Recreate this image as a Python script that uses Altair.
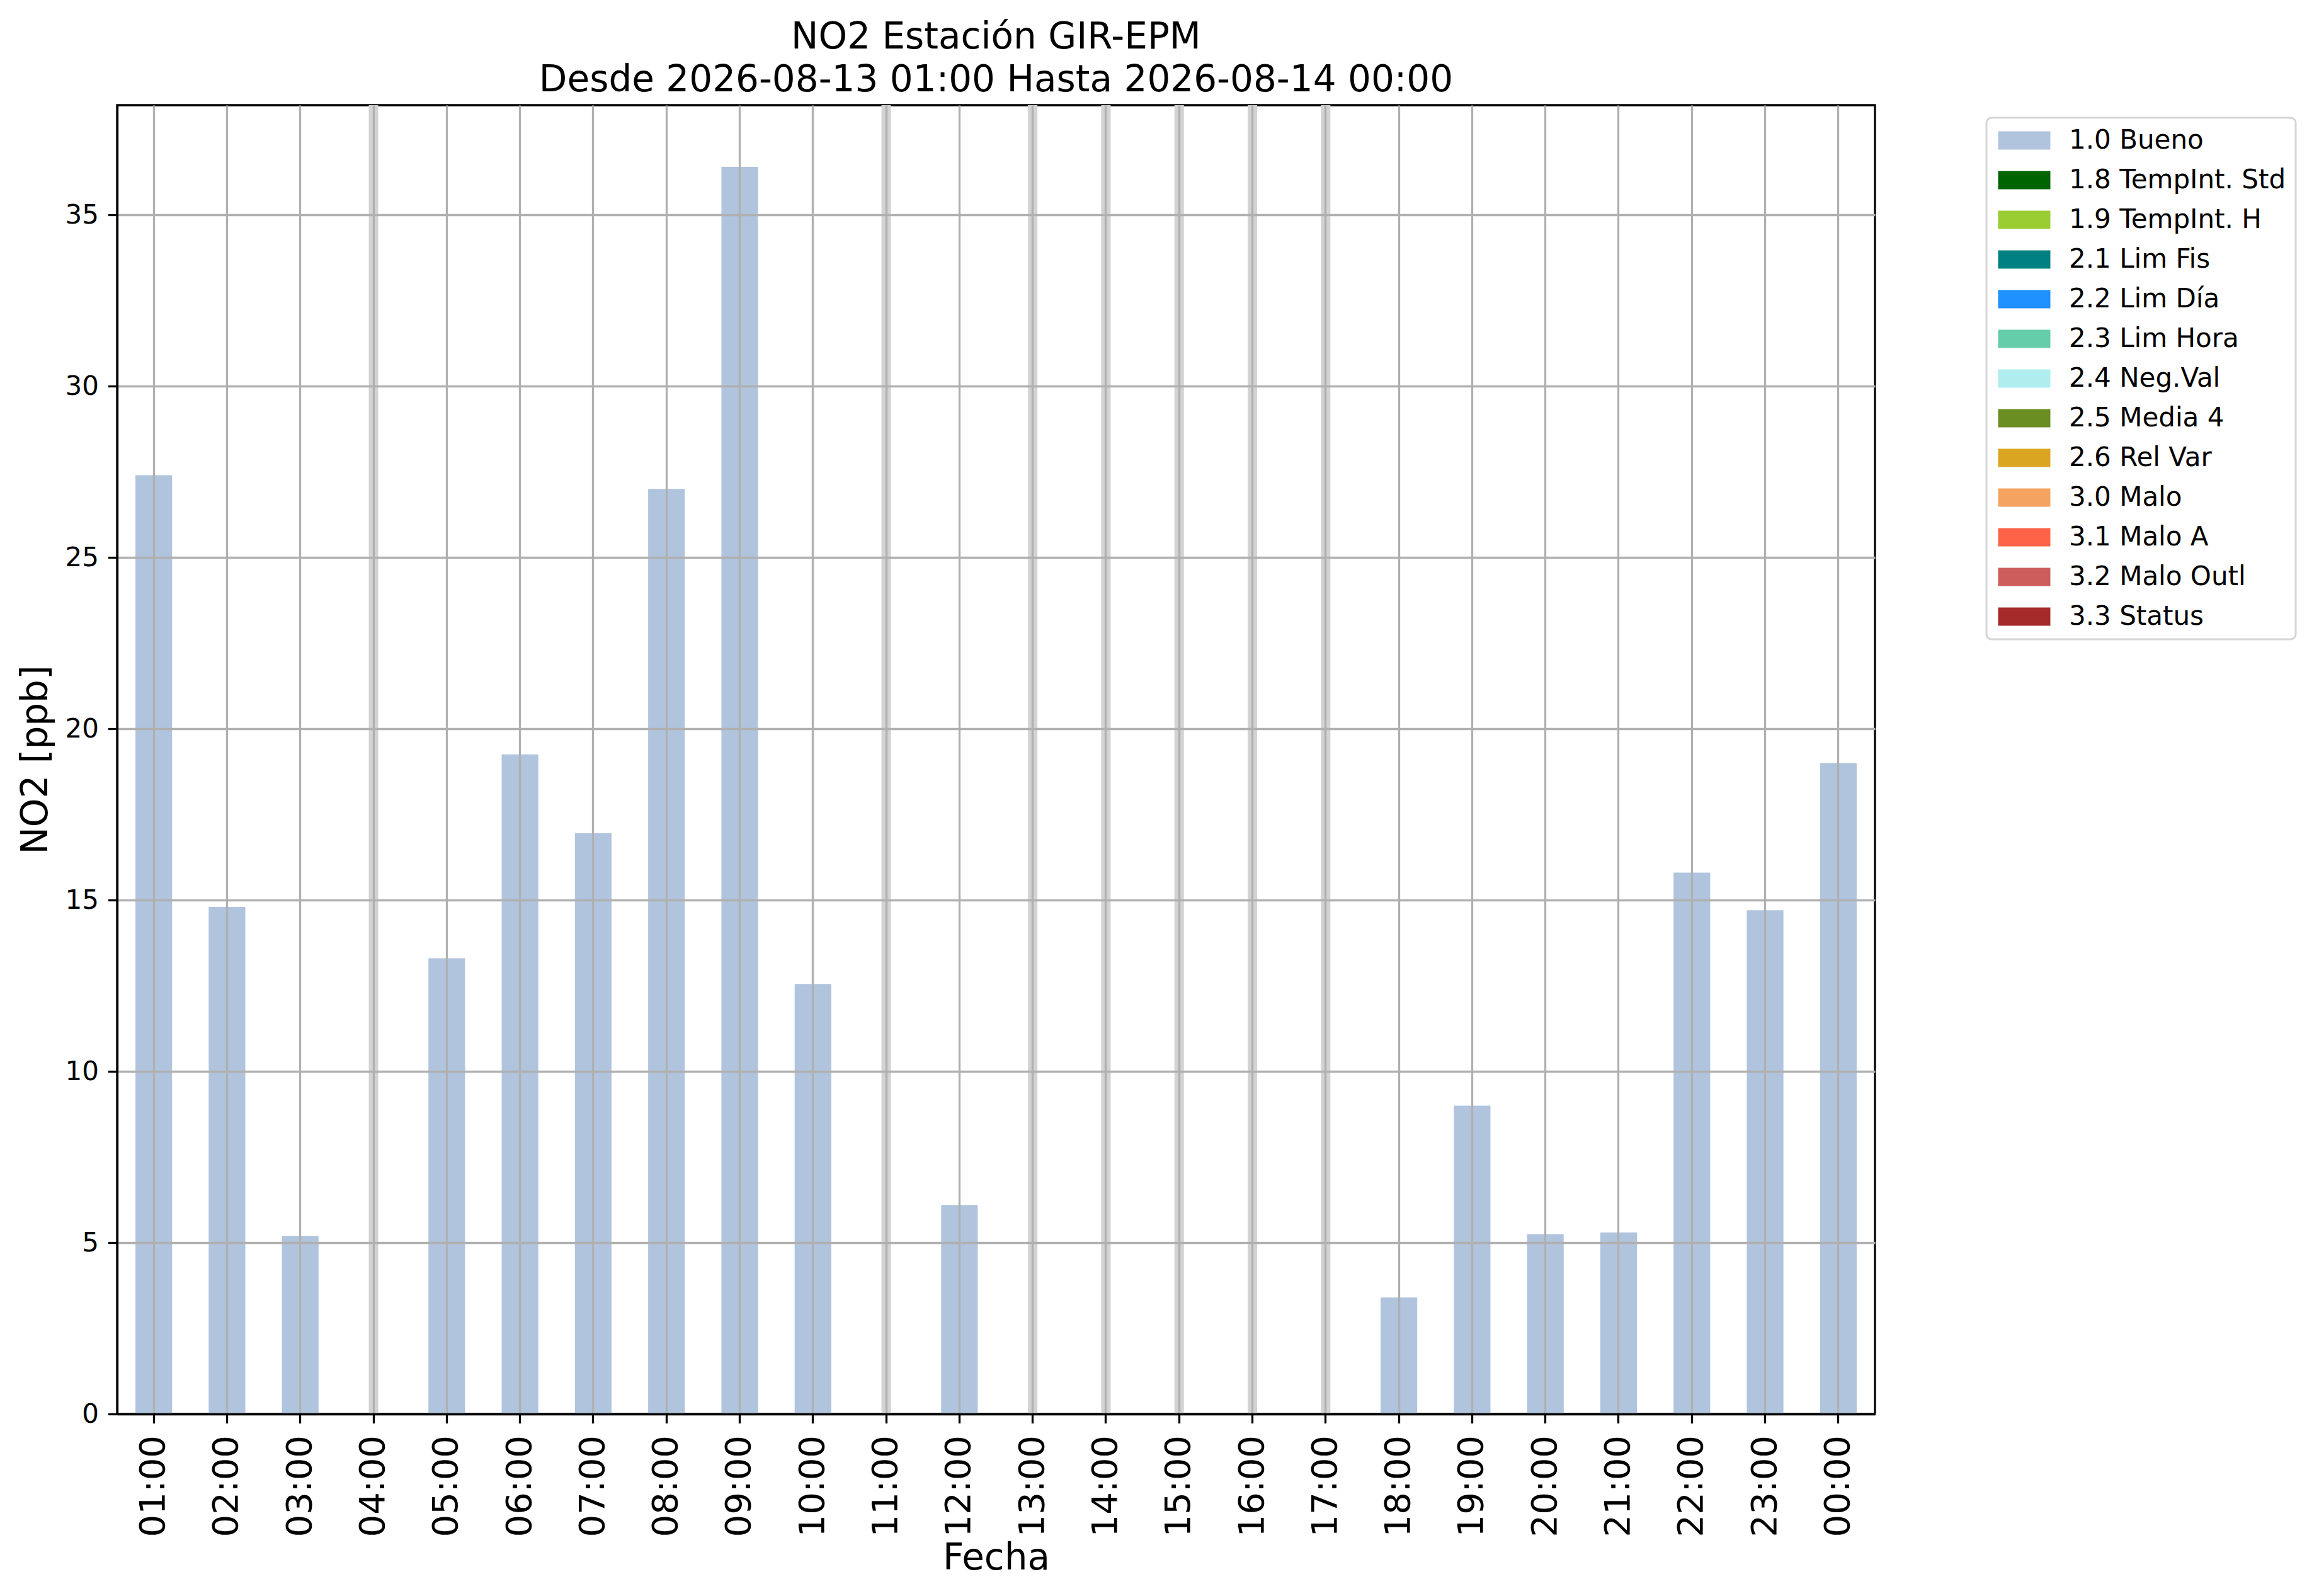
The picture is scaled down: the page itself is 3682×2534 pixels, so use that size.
import altair as alt
import pandas as pd

# ---------------- data ----------------
hours = ["01:00", "02:00", "03:00", "04:00", "05:00", "06:00", "07:00", "08:00",
         "09:00", "10:00", "11:00", "12:00", "13:00", "14:00", "15:00", "16:00",
         "17:00", "18:00", "19:00", "20:00", "21:00", "22:00", "23:00", "00:00"]
no2_ppb = [27.4, 14.8, 5.2, None, 13.3, 19.25, 16.95, 27.0,
           36.4, 12.55, None, 6.1, None, None, None, None,
           None, 3.4, 9.0, 5.25, 5.3, 15.8, 14.7, 19.0]
flag_labels = ["1.0 Bueno", "1.8 TempInt. Std", "1.9 TempInt. H", "2.1 Lim Fis",
               "2.2 Lim Día", "2.3 Lim Hora", "2.4 Neg.Val", "2.5 Media 4",
               "2.6 Rel Var", "3.0 Malo", "3.1 Malo A", "3.2 Malo Outl", "3.3 Status"]
flag_colors = ["#b0c4de", "#006400", "#9acd32", "#008080", "#1e90ff", "#66cdaa",
               "#afeeee", "#6b8e23", "#daa520", "#f4a460", "#ff6347", "#cd5c5c",
               "#a52a2a"]
y_ticks = [0, 5, 10, 15, 20, 25, 30, 35]
y_max = 38.2

df = pd.DataFrame({"hora": hours, "valor": no2_ppb})
present = df.dropna().copy()
present["flag"] = "1.0 Bueno"
missing = df[df["valor"].isna()].copy()

FONT = "DejaVu Sans"

x_scale = alt.Scale(domain=hours, paddingInner=0.5, paddingOuter=0.25)
x_axis = alt.Axis(title="Fecha", labelAngle=270, labelFontSize=56, titleFontSize=58,
                  labelPadding=19, titlePadding=6, zindex=1)

gaps = alt.Chart(missing).mark_rule(color="#d3d3d3", strokeWidth=15).encode(
    x=alt.X("hora:N", sort=hours, scale=x_scale, axis=x_axis)
)

legend = alt.Legend(
    title=None, orient="none", legendX=2968, legendY=20,
    symbolType="M-2.86,-1L2.86,-1L2.86,1L-2.86,1Z", symbolSize=841,
    symbolStrokeWidth=0, symbolOffset=24, labelOffset=50,
    labelFontSize=42, labelFont=FONT, labelColor="black", labelLimit=2000,
    padding=15, rowPadding=21, strokeColor="#d6d6d6", fillColor="white",
    cornerRadius=8,
)

bars = alt.Chart(present).mark_bar(opacity=1).encode(
    x=alt.X("hora:N", sort=hours, scale=x_scale, axis=x_axis),
    y=alt.Y("valor:Q", scale=alt.Scale(domain=[0, y_max], nice=False, zero=True),
            axis=alt.Axis(title="NO2 [ppb]", values=y_ticks, labelFontSize=42,
                          titleFontSize=58, labelPadding=15, titlePadding=16,
                          zindex=1)),
    color=alt.Color("flag:N", scale=alt.Scale(domain=flag_labels, range=flag_colors),
                    legend=legend),
)

chart = alt.layer(gaps, bars).properties(
    width=2791, height=2078,
    autosize=alt.AutoSizeParams(type="none"),
    padding={"left": 178, "top": 159, "right": 689, "bottom": 273},
    title=alt.TitleParams(
        text=["NO2 Estación GIR-EPM", "Desde 2026-08-13 01:00 Hasta 2026-08-14 00:00"],
        fontSize=58, font=FONT, fontWeight="normal", color="black",
        lineHeight=68, anchor="middle", offset=3,
    ),
).configure_view(
    stroke="black", strokeWidth=3.3
).configure_axis(
    labelFont=FONT, titleFont=FONT, labelColor="black", titleColor="black",
    titleFontWeight="normal", grid=True, gridColor="#b0b0b0", gridWidth=3.3,
    domainColor="black", domainWidth=3.3, tickColor="black", tickWidth=3.3,
    tickSize=14.6,
).configure_legend(
    strokeWidth=3
)

chart.save("out.html", embed_options={"renderer": "svg", "actions": False})
